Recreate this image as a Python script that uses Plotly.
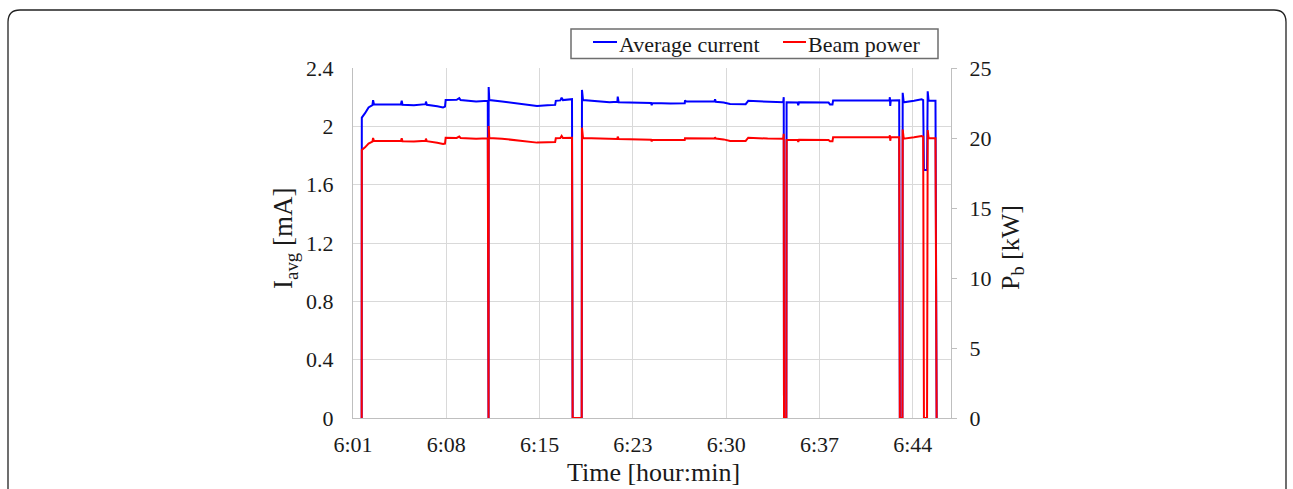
import plotly.graph_objects as go

# ---------------- data ----------------
minutes_after_6 = [1.67, 1.68, 1.93, 2.2, 2.5, 2.55, 2.62, 3.5, 4.7, 4.76, 4.82, 5.7, 6.6, 6.63, 6.7,
                   7.5, 7.95, 8.1, 8.15, 9.0, 9.2, 9.3, 10.5, 11.4, 11.42, 11.46, 11.47, 11.52, 12.5,
                   13.5, 14.5, 15.2, 16.0, 16.6, 16.65, 17.0, 17.1, 17.2, 17.9, 17.95, 18.65, 18.67,
                   18.75, 20.8, 21.4, 21.43, 21.5, 24.0, 24.05, 24.1, 25.5, 26.6, 26.62, 26.7, 28.9,
                   28.94, 29.0, 29.6, 30.1, 31.3, 31.5, 33.0, 34.2, 34.24, 34.26, 34.44, 34.46, 35.3,
                   35.36, 35.42, 37.7, 37.81, 38.0, 38.05, 42.4, 42.43, 42.46, 42.5, 43.15, 43.2,
                   43.4, 43.42, 43.5, 44.3, 44.88, 45.0, 45.06, 45.3, 45.35, 45.42, 45.95, 46.04]

average_current_mA = [0, 2.06, 2.09, 2.13, 2.145, 2.18, 2.15, 2.15, 2.152, 2.175, 2.148, 2.145, 2.152,
                      2.17, 2.148, 2.138, 2.13, 2.135, 2.18, 2.182, 2.193, 2.18, 2.17, 2.175, 0, 0,
                      2.27, 2.18, 2.17, 2.16, 2.15, 2.14, 2.145, 2.147, 2.175, 2.178, 2.197, 2.18,
                      2.186, 0, 0, 2.25, 2.18, 2.165, 2.168, 2.204, 2.165, 2.16, 2.145, 2.16, 2.157,
                      2.158, 2.178, 2.17, 2.17, 2.185, 2.168, 2.163, 2.153, 2.152, 2.175, 2.168,
                      2.165, 2.2, 0, 0, 2.165, 2.163, 2.145, 2.165, 2.163, 2.15, 2.15, 2.177, 2.177,
                      2.2, 2.14, 2.177, 2.178, 0, 0, 2.23, 2.165, 2.175, 2.186, 2.18, 1.70, 1.70,
                      2.24, 2.175, 2.175, 0]

beam_power_kW = [0, 19.14, 19.33, 19.6, 19.74, 20.0, 19.79, 19.78, 19.8, 19.98, 19.77, 19.75, 19.8,
                 19.95, 19.77, 19.66, 19.57, 19.6, 20.02, 20.0, 20.1, 20.0, 19.95, 19.98, 0, 0,
                 20.86, 20.0, 19.95, 19.86, 19.77, 19.67, 19.7, 19.72, 19.98, 20.0, 20.15, 20.0,
                 20.02, 0, 0, 20.74, 20.0, 19.93, 19.93, 20.1, 19.92, 19.88, 19.75, 19.88, 19.86,
                 19.86, 19.98, 19.98, 19.97, 20.05, 19.96, 19.9, 19.79, 19.79, 20.02, 19.96,
                 19.95, 20.3, 0, 0, 19.86, 19.86, 19.72, 19.88, 19.86, 19.76, 19.76, 20.05, 20.05,
                 20.2, 19.8, 20.05, 20.05, 0, 0, 20.6, 19.95, 20.05, 20.14, 20.1, 0, 0,
                 20.57, 19.98, 19.98, 0]

tick_minutes = [1.0, 8.2, 15.4, 22.6, 29.8, 37.0, 44.2]
tick_labels = ["6:01", "6:08", "6:15", "6:23", "6:30", "6:37", "6:44"]

# ---------------- layout helpers (pixel -> paper) ----------------
W, H = 1293, 489
L, R, T, B = 353, 342, 68, 71
PW, PH = W - L - R, H - T - B


def px(x):
    return (x - L) / PW


def py(y):
    return (H - B - y) / PH


FONT = "Liberation Serif, Times New Roman, serif"
TXT = "#1a1a1a"
GRID = "#d9d9d9"
AXIS = "#bfbfbf"

fig = go.Figure()
fig.add_trace(go.Scatter(x=minutes_after_6, y=average_current_mA, name="Average current",
                         mode="lines", line=dict(color="#0000ff", width=2), yaxis="y",
                         showlegend=False))
fig.add_trace(go.Scatter(x=minutes_after_6, y=beam_power_kW, name="Beam power",
                         mode="lines", line=dict(color="#ff0000", width=2), yaxis="y2",
                         showlegend=False))

# outer rounded frame
fx0, fx1, fy0, fyb, r = 8, 1286, 10, 500, 12
frame = (f"M{px(fx0)},{py(fyb)} L{px(fx0)},{py(fy0 + r)} Q{px(fx0)},{py(fy0)} {px(fx0 + r)},{py(fy0)} "
         f"L{px(fx1 - r)},{py(fy0)} Q{px(fx1)},{py(fy0)} {px(fx1)},{py(fy0 + r)} L{px(fx1)},{py(fyb)}")
shapes = [dict(type="path", xref="paper", yref="paper", path=frame,
               line=dict(color="#222222", width=1.3))]

# manual legend
shapes.append(dict(type="rect", xref="paper", yref="paper", x0=px(571), x1=px(938),
                   y0=py(58.5), y1=py(29), line=dict(color="#6e6e6e", width=1.5),
                   fillcolor="rgba(0,0,0,0)"))
shapes.append(dict(type="line", xref="paper", yref="paper", x0=px(593), x1=px(617),
                   y0=py(42), y1=py(42), line=dict(color="#0000ff", width=2)))
shapes.append(dict(type="line", xref="paper", yref="paper", x0=px(783), x1=px(806),
                   y0=py(42), y1=py(42), line=dict(color="#ff0000", width=2)))

annotations = [
    dict(text="Average current", x=px(617), y=py(44), xref="paper", yref="paper",
         xanchor="left", yanchor="middle", showarrow=False, font=dict(size=22, color=TXT, family=FONT)),
    dict(text="Beam power", x=px(806), y=py(44), xref="paper", yref="paper",
         xanchor="left", yanchor="middle", showarrow=False, font=dict(size=22, color=TXT, family=FONT)),
    dict(text="Time [hour:min]", x=px(653), y=py(473), xref="paper", yref="paper",
         xanchor="center", yanchor="middle", showarrow=False, font=dict(size=26, color=TXT, family=FONT)),
    dict(text="I<sub>avg</sub> [mA]", x=px(285), y=py(238), xref="paper", yref="paper",
         xanchor="center", yanchor="middle", textangle=-90, showarrow=False,
         font=dict(size=27, color=TXT, family=FONT)),
    dict(text="P<sub>b</sub> [kW]", x=px(1012), y=py(248), xref="paper", yref="paper",
         xanchor="center", yanchor="middle", textangle=-90, showarrow=False,
         font=dict(size=26, color=TXT, family=FONT)),
]

fig.update_layout(
    width=W, height=H,
    margin=dict(l=L, r=R, t=T, b=B, pad=0),
    paper_bgcolor="white", plot_bgcolor="white",
    font=dict(family=FONT, size=22, color=TXT),
    showlegend=False,
    shapes=shapes,
    annotations=annotations,
    xaxis=dict(range=[1, 1 + (951 - 353) / 93.3 * 7.2], tickmode="array", tickvals=tick_minutes,
               ticktext=tick_labels, showgrid=True, gridcolor=GRID, gridwidth=1,
               showline=True, linecolor=AXIS, linewidth=1, zeroline=False, ticks="",
               ticklabelstandoff=7, tickfont=dict(size=22, family=FONT, color=TXT)),
    yaxis=dict(range=[0, 2.4], dtick=0.4, tick0=0, showgrid=True, gridcolor=GRID, gridwidth=1,
               showline=True, linecolor=AXIS, linewidth=1, zeroline=False, ticks="",
               ticklabelstandoff=14, tickfont=dict(size=22, family=FONT, color=TXT)),
    yaxis2=dict(range=[0, 25], dtick=5, tick0=0, overlaying="y", side="right", showgrid=False,
                showline=True, linecolor=AXIS, linewidth=1, zeroline=False, ticks="outside",
                ticklen=5, tickcolor=AXIS, ticklabelstandoff=8,
                tickfont=dict(size=22, family=FONT, color=TXT)),
)

fig.write_html("out.html")
